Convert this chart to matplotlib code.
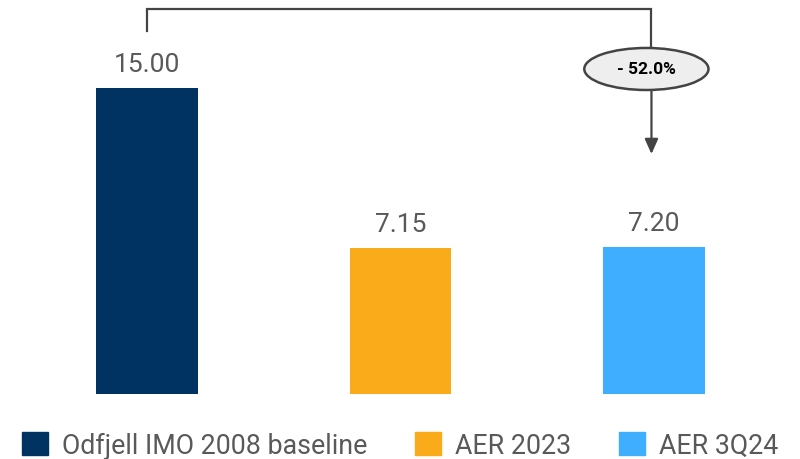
import matplotlib.pyplot as plt
from matplotlib.patches import Ellipse, Patch

categories = ["Odfjell IMO 2008 baseline", "AER 2023", "AER 3Q24"]
values = [15.00, 7.15, 7.20]
value_labels = ["15.00", "7.15", "7.20"]
colors = ["#003361", "#F9AB1A", "#40AEFF"]
change_label = "- 52.0%"

plt.rcParams["font.family"] = ["Roboto", "DejaVu Sans"]

fig = plt.figure(figsize=(8, 4.6), dpi=100)
ax = fig.add_axes([0, 0.1413, 1, 0.8587])
x = list(range(len(values)))
bars = ax.bar(x, values, width=0.40, color=colors)

for xi, v, lab in zip(x, values, value_labels):
    ax.annotate(lab, (xi, v), xytext=(0, 12), textcoords="offset points",
                ha="center", va="baseline", fontsize=19, color="#595959")

ax.set_xlim(-0.58, 2.576)
ax.set_ylim(0, 19.36)
ax.axis("off")

# bracket from first bar to last bar
line_col = "#444444"
y_top = 18.87
ell_cy, ell_h, ell_w = 15.93, 2.06, 0.49
ax.plot([0, 0, 1.99, 1.99], [17.8, y_top, y_top, ell_cy + ell_h / 2],
        color=line_col, lw=1.6, solid_joinstyle="miter")
ax.add_patch(Ellipse((1.97, ell_cy), ell_w, ell_h, facecolor="#EEEEEE",
                     edgecolor=line_col, lw=1.8, zorder=3))
ax.text(1.97, ell_cy, change_label, ha="center", va="center",
        fontsize=12.5, fontweight="bold", color="black", zorder=4)
ax.annotate("", xy=(1.99, 11.76), xytext=(1.99, ell_cy - ell_h / 2),
            arrowprops=dict(arrowstyle="-|>,head_length=0.9,head_width=0.4",
                            color=line_col, lw=1.6, shrinkA=0, shrinkB=0))

handles = [Patch(color=c) for c in colors]
fig.legend(handles, categories, loc="center left", bbox_to_anchor=(0.027, 0.03),
           ncol=3, frameon=False, fontsize=19.3, labelcolor="#595959",
           handlelength=0.97, handleheight=0.97, handletextpad=0.52,
           columnspacing=1.8, borderpad=0, borderaxespad=0)

fig.savefig("out.png", dpi=100)
